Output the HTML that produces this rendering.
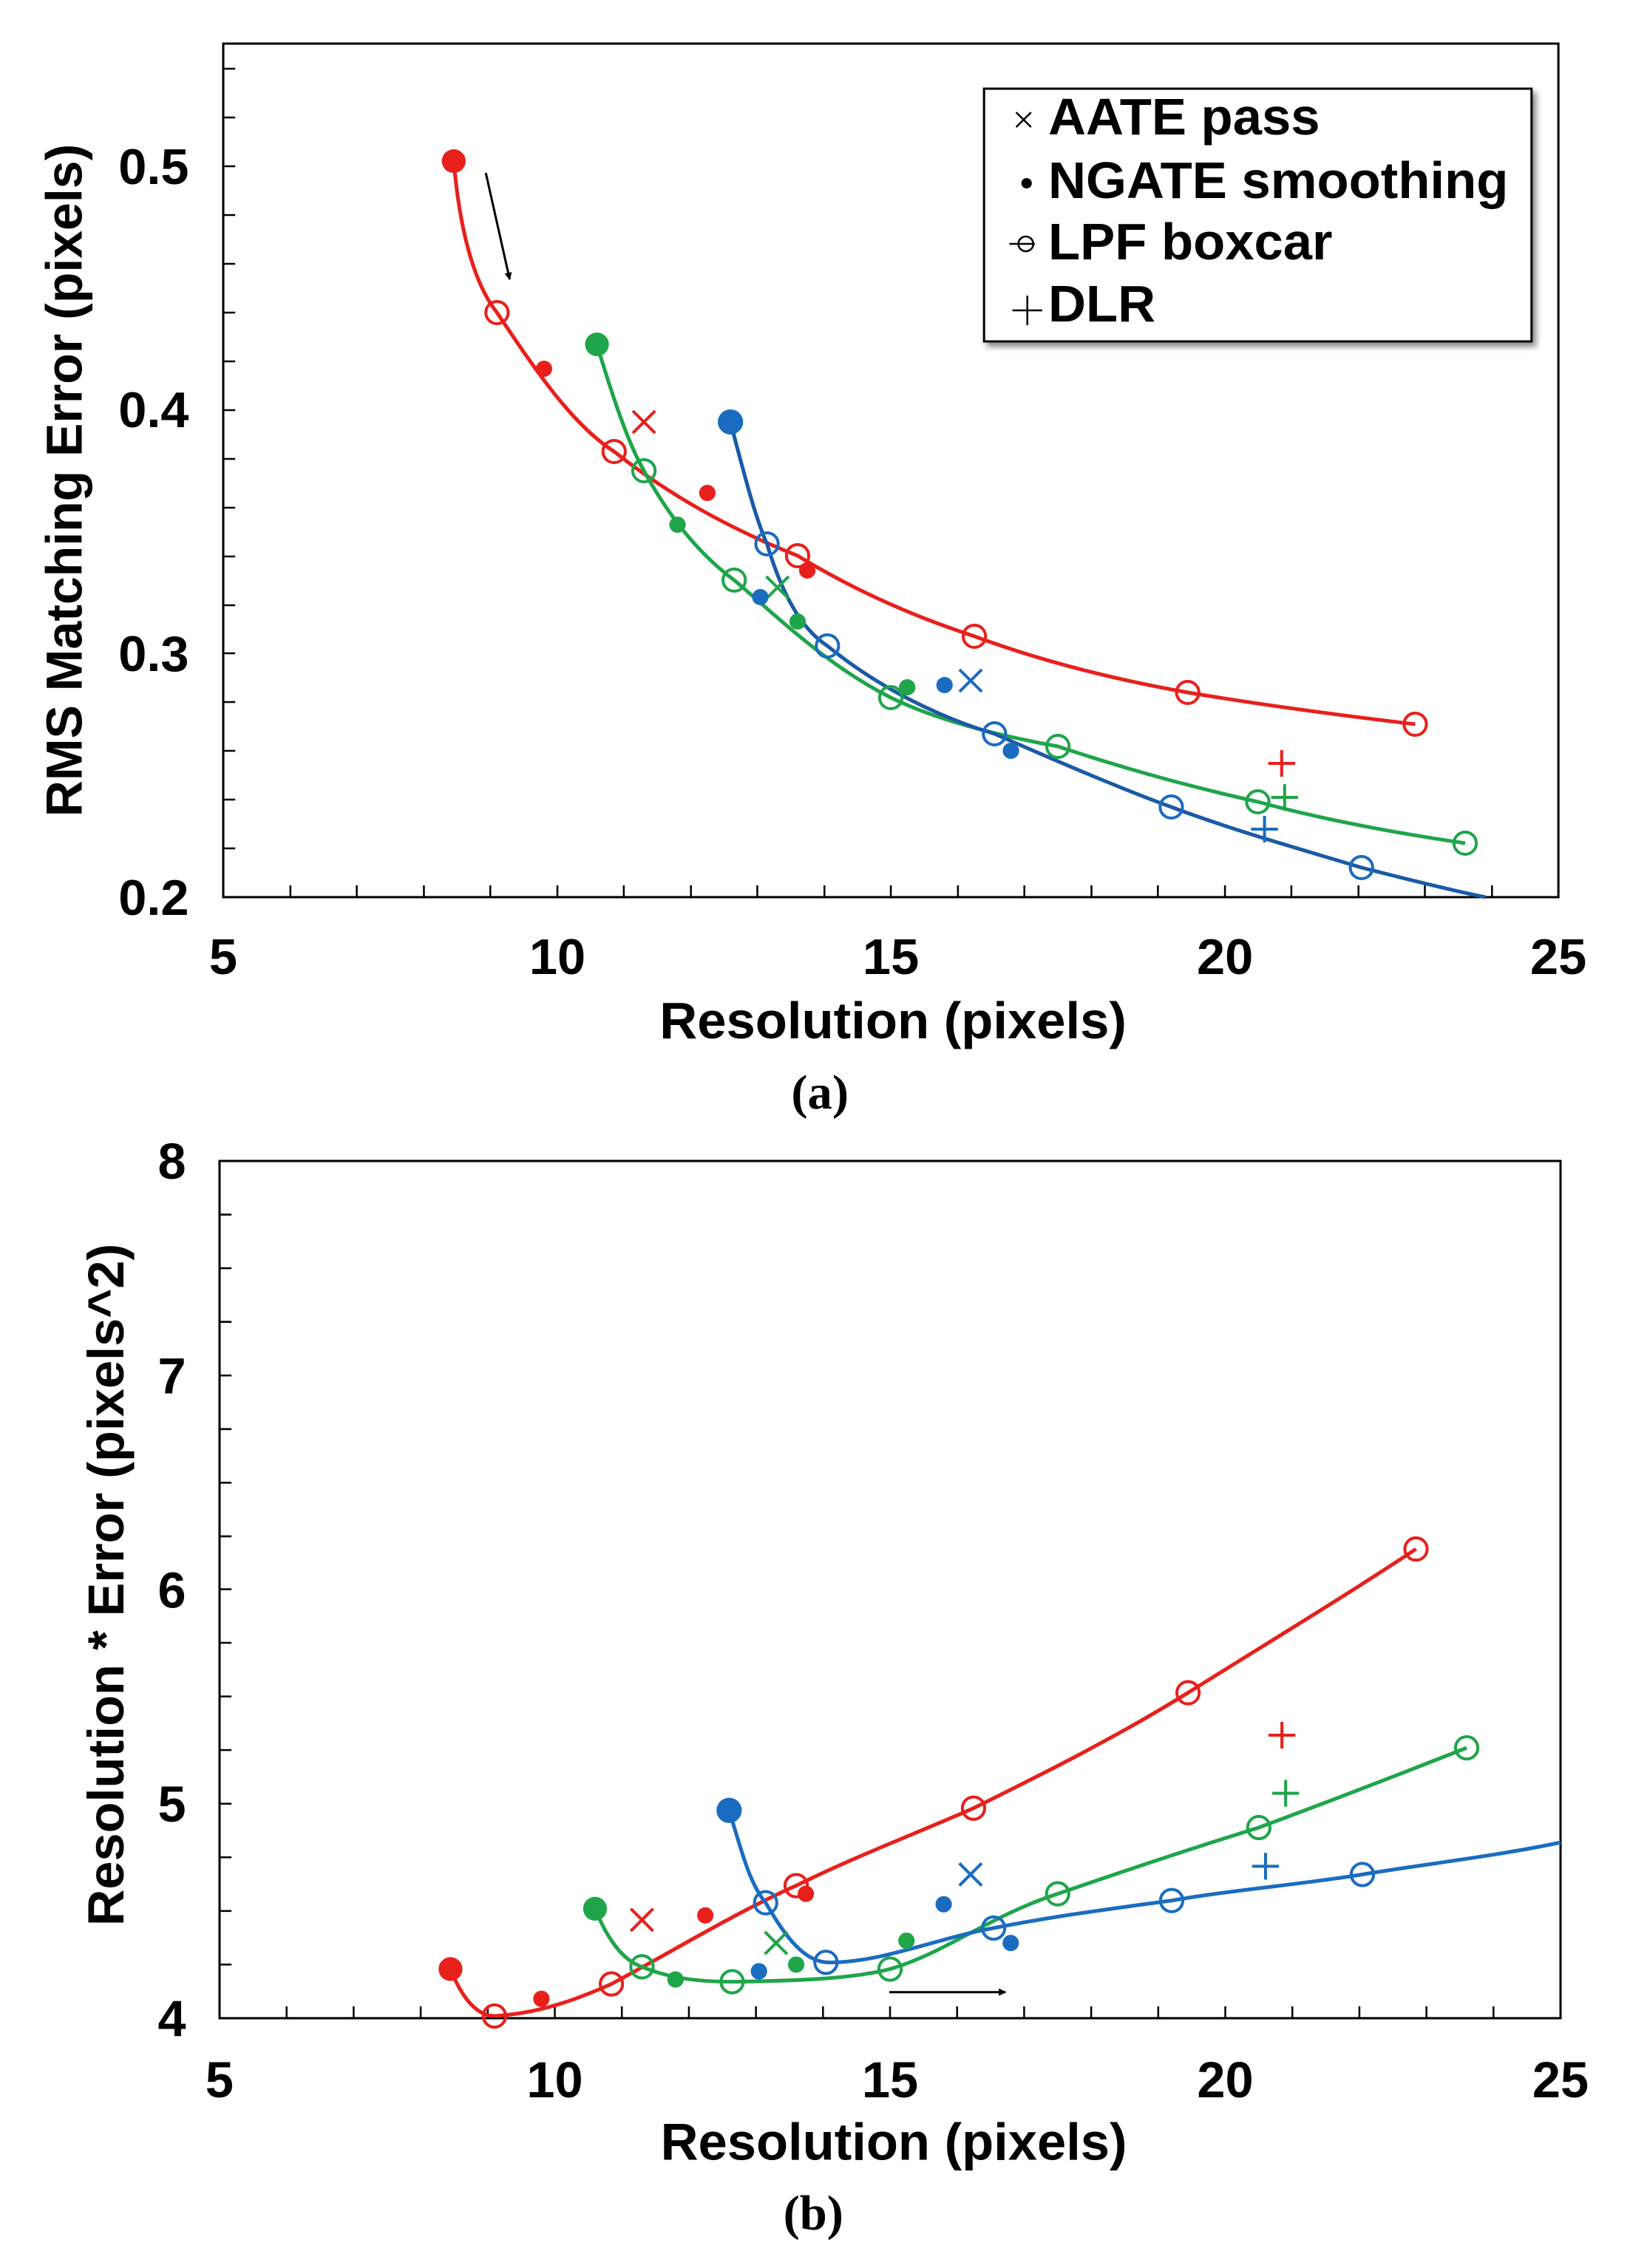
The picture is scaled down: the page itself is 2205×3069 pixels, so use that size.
<!DOCTYPE html>
<html><head><meta charset="utf-8"><style>
html,body{margin:0;padding:0;background:#fff;}
svg{display:block;}
text{font-family:"Liberation Sans",Arial,sans-serif;font-weight:bold;fill:#000;}
.ser{font-family:"Liberation Serif",serif;}
</style></head><body>
<svg width="2205" height="3069" viewBox="0 0 2205 3069" xmlns="http://www.w3.org/2000/svg">
<defs>
<marker id="ah" markerWidth="10" markerHeight="10" refX="9" refY="5" orient="auto" markerUnits="userSpaceOnUse"><path d="M0,0 L10,5 L0,10 z" fill="#000"/></marker>
<filter id="sh" x="-5%" y="-5%" width="115%" height="120%"><feDropShadow dx="5" dy="6" stdDeviation="4" flood-color="#000" flood-opacity="0.45"/></filter>
</defs>

<!-- ========== PLOT A ========== -->
<g transform="matrix(1.009 0 0 1 -2.7 0)">
<rect x="302" y="59" width="1790" height="1155" fill="none" stroke="#000" stroke-width="3"/>
<g stroke="#000" stroke-width="2.5">
<path d="M392,1214v-16M481,1214v-16M571,1214v-16M660,1214v-16M750,1214v-16M839,1214v-16M929,1214v-16M1018,1214v-16M1108,1214v-16M1197,1214v-16M1287,1214v-16M1376,1214v-16M1466,1214v-16M1555,1214v-16M1645,1214v-16M1734,1214v-16M1824,1214v-16M1913,1214v-16M2003,1214v-16"/>
<path d="M302,1148h16M302,1082h16M302,1016h16M302,950h16M302,884h16M302,819h16M302,753h16M302,687h16M302,621h16M302,555h16M302,489h16M302,423h16M302,357h16M302,291h16M302,225h16M302,159h16M302,93h16"/>
</g>
<g font-size="68" text-anchor="end">
<text x="256" y="1238">0.2</text>
<text x="256" y="908">0.3</text>
<text x="256" y="578">0.4</text>
<text x="256" y="249">0.5</text>
</g>
<g font-size="68" text-anchor="middle">
<text x="302" y="1318">5</text>
<text x="750" y="1318">10</text>
<text x="1197" y="1318">15</text>
<text x="1645" y="1318">20</text>
<text x="2092" y="1318">25</text>
<text x="1200" y="1405" font-size="70">Resolution (pixels)</text>
<text x="1102" y="1500" class="ser" font-size="66">(a)</text>
</g>
<text transform="translate(112,650) rotate(-90)" font-size="68" text-anchor="middle">RMS Matching Error (pixels)</text>

<g fill="none" stroke-width="5" stroke-linejoin="round">
<path stroke="#e8201c" d="M611,218 C618,300 635,380 669,423 C720,500 770,575 826,611 C900,670 980,715 1072,752 C1150,800 1230,835 1309,861 C1400,895 1500,920 1595,937 C1700,955 1800,968 1900,980"/>
<path stroke="#1fa54a" d="M803,466 C825,540 845,600 866,637 C900,700 940,750 987,785 C1040,830 1110,900 1197,944 C1260,975 1340,995 1421,1010 C1510,1040 1600,1065 1689,1085 C1780,1110 1880,1128 1967,1141"/>
<path stroke="#1a5aa6" d="M982,571 C1000,640 1015,700 1031,736 C1050,800 1075,850 1112,874 C1180,930 1260,970 1336,993 C1420,1030 1500,1065 1573,1092 C1660,1125 1750,1150 1828,1174 C1890,1190 1950,1205 1994,1214"/>
</g>
<line x1="654" y1="234" x2="686" y2="378" stroke="#000" stroke-width="3" marker-end="url(#ah)"/>

<g stroke="#e8201c" fill="none" stroke-width="4">
<circle cx="669" cy="423" r="15"/><circle cx="826" cy="611" r="15"/><circle cx="1072" cy="752" r="15"/><circle cx="1309" cy="861" r="15"/><circle cx="1595" cy="937" r="15"/><circle cx="1900" cy="980" r="15"/>
<path d="M851,556l30,30M881,556l-30,30"/>
<path d="M1721,1015v36M1703,1033h36"/>
</g>
<g fill="#e8201c"><circle cx="611" cy="218" r="16"/><circle cx="732" cy="499" r="11"/><circle cx="951" cy="667" r="11"/><circle cx="1085" cy="772" r="11"/></g>
<g stroke="#1fa54a" fill="none" stroke-width="4">
<circle cx="866" cy="637" r="15"/><circle cx="987" cy="785" r="15"/><circle cx="1197" cy="944" r="15"/><circle cx="1421" cy="1010" r="15"/><circle cx="1689" cy="1085" r="15"/><circle cx="1967" cy="1141" r="15"/>
<path d="M1030,780l30,30M1060,780l-30,30"/>
<path d="M1725,1061v36M1707,1079h36"/>
</g>
<g fill="#1fa54a"><circle cx="803" cy="466" r="16"/><circle cx="911" cy="710" r="11"/><circle cx="1072" cy="841" r="11"/><circle cx="1219" cy="930" r="11"/></g>
<g stroke="#1a6cc0" fill="none" stroke-width="4">
<circle cx="1031" cy="736" r="15"/><circle cx="1112" cy="874" r="15"/><circle cx="1336" cy="993" r="15"/><circle cx="1573" cy="1092" r="15"/><circle cx="1828" cy="1174" r="15"/>
<path d="M1289,906l30,30M1319,906l-30,30"/>
<path d="M1698,1104v36M1680,1122h36"/>
</g>
<g fill="#1a6cc0"><circle cx="982" cy="571" r="17"/><circle cx="1022" cy="808" r="11"/><circle cx="1269" cy="927" r="11"/><circle cx="1358" cy="1016" r="11"/></g>

<rect x="1322" y="120" width="734" height="342" fill="#fff" stroke="#000" stroke-width="3" filter="url(#sh)"/>
<g stroke="#000" stroke-width="2.5" fill="none">
<path d="M1365,152l20,20M1385,152l-20,20"/>
<circle cx="1378" cy="330" r="10"/><path d="M1356,330h34"/>
<path d="M1380,400v40M1360,420h40"/>
</g>
<circle cx="1379" cy="248" r="7" fill="#000"/>
<g font-size="70">
<text x="1408" y="182">AATE pass</text>
<text x="1408" y="268">NGATE smoothing</text>
<text x="1408" y="351">LPF boxcar</text>
<text x="1408" y="435">DLR</text>
</g>
</g>

<!-- ========== PLOT B ========== -->
<g transform="matrix(1.0078 0 0 1.0078 -0.3 -18.3)">
<rect x="295" y="1577" width="1800" height="1151" fill="none" stroke="#000" stroke-width="3"/>
<g stroke="#000" stroke-width="2.5">
<path d="M385,2728v-16M475,2728v-16M565,2728v-16M655,2728v-16M745,2728v-16M835,2728v-16M925,2728v-16M1015,2728v-16M1105,2728v-16M1195,2728v-16M1285,2728v-16M1375,2728v-16M1465,2728v-16M1555,2728v-16M1645,2728v-16M1735,2728v-16M1825,2728v-16M1915,2728v-16M2005,2728v-16"/>
<path d="M295,2656h16M295,2584h16M295,2512h16M295,2440h16M295,2368h16M295,2296h16M295,2224h16M295,2152h16M295,2081h16M295,2009h16M295,1937h16M295,1865h16M295,1793h16M295,1721h16M295,1649h16"/>
</g>
<g font-size="68" text-anchor="end">
<text x="250" y="2752">4</text>
<text x="250" y="2464">5</text>
<text x="250" y="2177">6</text>
<text x="250" y="1889">7</text>
<text x="250" y="1601">8</text>
</g>
<g font-size="68" text-anchor="middle">
<text x="295" y="2834">5</text>
<text x="745" y="2834">10</text>
<text x="1195" y="2834">15</text>
<text x="1645" y="2834">20</text>
<text x="2095" y="2834">25</text>
<text x="1200" y="2918" font-size="70">Resolution (pixels)</text>
<text x="1092" y="3012" class="ser" font-size="66">(b)</text>
</g>
<text transform="translate(166,2146) rotate(-90)" font-size="68" text-anchor="middle">Resolution * Error (pixels^2)</text>

<g fill="none" stroke-width="5" stroke-linejoin="round">
<path stroke="#e8201c" d="M605,2662 C620,2700 640,2725 664,2725 C720,2722 770,2705 821,2682 C900,2640 990,2585 1069,2550 C1150,2510 1230,2480 1307,2446 C1400,2400 1500,2350 1595,2291 C1700,2225 1800,2165 1901,2098"/>
<path stroke="#1fa54a" d="M799,2581 C815,2620 835,2650 862,2659 C900,2675 940,2679 983,2679 C1060,2678 1140,2676 1195,2662 C1270,2640 1330,2590 1420,2561 C1510,2530 1600,2500 1690,2472 C1790,2435 1880,2400 1969,2365"/>
<path stroke="#1a6cc0" d="M979,2449 C995,2500 1005,2545 1028,2573 C1050,2610 1075,2650 1109,2653 C1180,2655 1260,2620 1334,2607 C1420,2590 1500,2580 1573,2570 C1660,2555 1750,2548 1829,2535 C1920,2520 2010,2510 2095,2492"/>
</g>
<line x1="1194" y1="2693" x2="1350" y2="2693" stroke="#000" stroke-width="3" marker-end="url(#ah)"/>

<g stroke="#e8201c" fill="none" stroke-width="4">
<circle cx="664" cy="2725" r="15"/><circle cx="821" cy="2682" r="15"/><circle cx="1069" cy="2550" r="15"/><circle cx="1307" cy="2446" r="15"/><circle cx="1595" cy="2291" r="15"/><circle cx="1901" cy="2098" r="15"/>
<path d="M847,2581l30,30M877,2581l-30,30"/>
<path d="M1721,2330v36M1703,2348h36"/>
</g>
<g fill="#e8201c"><circle cx="605" cy="2662" r="16"/><circle cx="727" cy="2702" r="11"/><circle cx="947" cy="2590" r="11"/><circle cx="1082" cy="2561" r="11"/></g>
<g stroke="#1fa54a" fill="none" stroke-width="4">
<circle cx="862" cy="2659" r="15"/><circle cx="983" cy="2679" r="15"/><circle cx="1195" cy="2662" r="15"/><circle cx="1420" cy="2561" r="15"/><circle cx="1690" cy="2472" r="15"/><circle cx="1969" cy="2365" r="15"/>
<path d="M1027,2612l30,30M1057,2612l-30,30"/>
<path d="M1726,2408v36M1708,2426h36"/>
</g>
<g fill="#1fa54a"><circle cx="799" cy="2581" r="16"/><circle cx="907" cy="2676" r="11"/><circle cx="1069" cy="2656" r="11"/><circle cx="1217" cy="2624" r="11"/></g>
<g stroke="#1a6cc0" fill="none" stroke-width="4">
<circle cx="1028" cy="2573" r="15"/><circle cx="1109" cy="2653" r="15"/><circle cx="1334" cy="2607" r="15"/><circle cx="1573" cy="2570" r="15"/><circle cx="1829" cy="2535" r="15"/>
<path d="M1288,2520l30,30M1318,2520l-30,30"/>
<path d="M1699,2506v36M1681,2524h36"/>
</g>
<g fill="#1a6cc0"><circle cx="979" cy="2449" r="17"/><circle cx="1019" cy="2665" r="11"/><circle cx="1267" cy="2575" r="11"/><circle cx="1357" cy="2627" r="11"/></g>
</g>
</svg>
</body></html>
